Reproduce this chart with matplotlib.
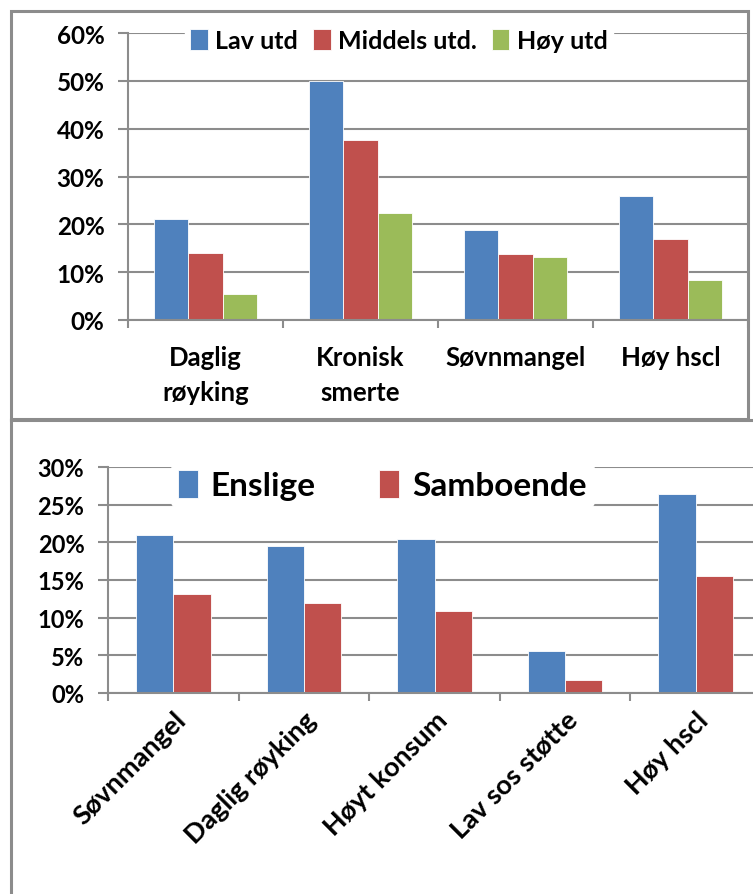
import matplotlib
matplotlib.use("Agg")
import numpy as np
import matplotlib.pyplot as plt
from matplotlib.patches import Rectangle
from matplotlib.lines import Line2D

plt.rcParams['font.family'] = ['Lato', 'DejaVu Sans']
plt.rcParams['font.weight'] = 'bold'

# top chart: education level
edu_cats = ["Daglig\nrøyking", "Kronisk\nsmerte", "Søvnmangel", "Høy hscl"]
lav_utd = [21.2, 50.0, 18.9, 26.0]
middels_utd = [14.0, 37.6, 13.7, 17.0]
hoy_utd = [5.4, 22.3, 13.2, 8.4]
edu_names = ["Lav utd", "Middels utd.", "Høy utd"]

# bottom chart: living situation
civ_cats = ["Søvnmangel", "Daglig røyking", "Høyt konsum", "Lav sos støtte", "Høy hscl"]
enslige = [21.0, 19.5, 20.5, 5.6, 26.4]
samboende = [13.1, 11.9, 10.9, 1.7, 15.5]
civ_names = ["Enslige", "Samboende"]

BLUE = "#4f81bd"
RED = "#c0504d"
GREEN = "#9bbb59"
GRID = "#8c8c8c"

W, H = 753, 895
fig = plt.figure(figsize=(W / 100, H / 100), dpi=100)


def px_axes(left, right, top, bottom):
    return fig.add_axes([left / W, 1 - bottom / H, (right - left) / W, (bottom - top) / H])


def style_axes(ax, ymax, step, fs):
    ax.set_ylim(0, ymax)
    ax.set_yticks(np.arange(0, ymax + 0.01, step))
    ax.set_yticklabels(["%d%%" % v for v in np.arange(0, ymax + 0.01, step)], fontsize=fs, fontweight="bold")
    ax.yaxis.grid(True, color=GRID, lw=1.5)
    ax.set_axisbelow(True)
    for s in ["top", "right"]:
        ax.spines[s].set_visible(False)
    for s in ["left", "bottom"]:
        ax.spines[s].set_color(GRID)
        ax.spines[s].set_linewidth(1.5)
    ax.tick_params(axis="y", length=7, width=1.5, color=GRID, pad=10)
    ax.tick_params(axis="x", which="major", length=0, pad=12)
    ax.tick_params(axis="x", which="minor", length=6, width=1.5, color=GRID)


# ---- top panel
ax1 = px_axes(128, 748, 34, 321)
n1 = len(edu_cats)
x1 = np.arange(n1) + 0.5
w1 = 1 / 4.5
for i, (vals, col) in enumerate(zip([lav_utd, middels_utd, hoy_utd], [BLUE, RED, GREEN])):
    ax1.bar(x1 + (i - 1) * w1, vals, w1, color=col, label=edu_names[i], edgecolor="white", linewidth=0.6)
ax1.set_xlim(0, n1)
style_axes(ax1, 60, 10, 17.5)
ax1.set_xticks(x1)
ax1.set_xticklabels(edu_cats, fontsize=18.5, fontweight="bold", linespacing=1.55)
ax1.tick_params(axis="x", which="major", pad=18)
ax1.set_xticks(np.arange(n1 + 1), minor=True)
leg1 = ax1.legend(loc="upper center", bbox_to_anchor=(0.437, 1.075), ncol=3, frameon=True,
                  handlelength=0.7, handleheight=0.9, handletextpad=0.3,
                  columnspacing=0.6, borderpad=0.2, prop={"weight": "bold", "size": 18})
leg1.get_frame().set_edgecolor("white")
leg1.get_frame().set_facecolor("white")
leg1.get_frame().set_alpha(1)

# ---- bottom panel (axis runs past the right edge)
ax2 = px_axes(108, 108 + 5 * 130.6, 468, 694)
n2 = len(civ_cats)
x2 = np.arange(n2) + 0.5
w2 = 1 / 3.5
ax2.bar(x2 - w2 / 2, enslige, w2, color=BLUE, label=civ_names[0], edgecolor="white", linewidth=0.6)
ax2.bar(x2 + w2 / 2, samboende, w2, color=RED, label=civ_names[1], edgecolor="white", linewidth=0.6)
ax2.set_xlim(0, n2)
style_axes(ax2, 30, 5, 17)
ax2.set_xticks(x2)
ax2.set_xticklabels(civ_cats, fontsize=19.5, fontweight="bold", rotation=45, ha="right",
                    rotation_mode="anchor")
ax2.tick_params(axis="x", which="major", pad=10)
ax2.set_xticks(np.arange(n2 + 1), minor=True)
leg2 = ax2.legend(loc="upper center", bbox_to_anchor=(0.42, 1.09), ncol=2, frameon=True,
                  handlelength=0.6, handleheight=0.9, handletextpad=0.4,
                  columnspacing=1.9, borderpad=0.2, prop={"weight": "bold", "size": 24})
leg2.get_frame().set_edgecolor("white")
leg2.get_frame().set_facecolor("white")
leg2.get_frame().set_alpha(1)

# panel borders
fig.add_artist(Rectangle((11 / W, 1 - 420 / H), (748 - 11) / W, (420 - 12) / H,
                         transform=fig.transFigure, fill=False, edgecolor="#8c8c8c", lw=2.2))
fig.add_artist(Line2D([11 / W, 1.0], [1 - 421 / H, 1 - 421 / H], transform=fig.transFigure,
                      color="#8c8c8c", lw=2.2))
fig.add_artist(Line2D([11 / W, 11 / W], [1 - 421 / H, 0], transform=fig.transFigure,
                      color="#8c8c8c", lw=2.2))

fig.savefig("out.png", dpi=100)
